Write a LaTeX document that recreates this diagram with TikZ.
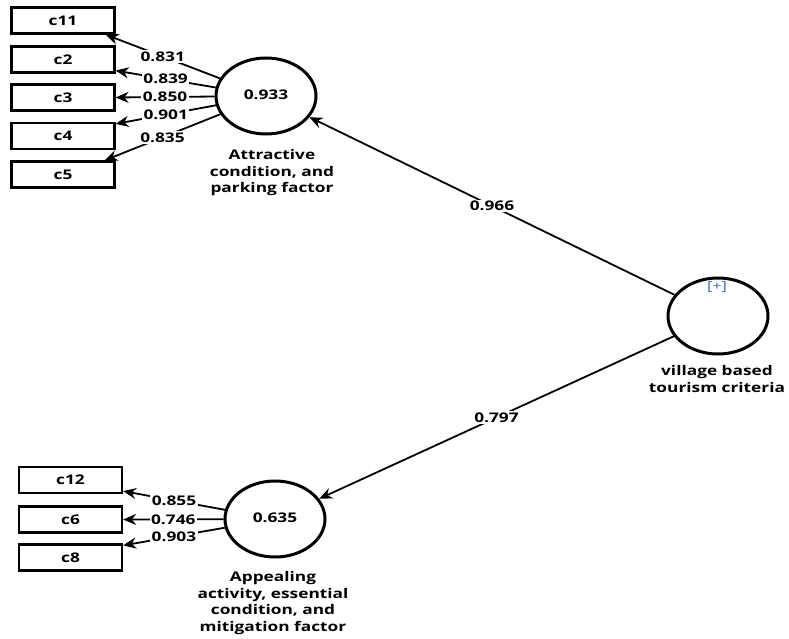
\documentclass[tikz,border=0pt]{standalone}
\usepackage{fontspec}
\setmainfont[FakeStretch=1.3]{Open Sans}
\usetikzlibrary{shapes.geometric,arrows.meta,calc}
\definecolor{plusblue}{RGB}{60,110,170}
\begin{document}
\begin{tikzpicture}[x=1pt,y=-1pt,
  every node/.style={font=\bfseries\fontsize{13.3}{16.5}\selectfont},
  ind/.style={draw, line width=2.2pt, minimum width=103pt, minimum height=26pt, inner sep=0pt},
  lv/.style={draw, ellipse, line width=3pt, minimum width=100pt, minimum height=76pt, inner sep=0pt},
  arr/.style={-{Stealth[length=13pt,width=11pt]}, line width=1.8pt},
  lab/.style={fill=white, inner sep=1.5pt, pos=0.5},
  captext/.style={align=center, inner sep=0pt}]
\useasboundingbox (0,0) rectangle (789,639);
% indicator boxes
\node[ind] (c11) at (63,20.5) {c11};
\node[ind] (c2) at (63,59.5) {c2};
\node[ind] (c3) at (63,97.5) {c3};
\node[ind] (c4) at (63,136) {c4};
\node[ind] (c5) at (63,174.5) {c5};
\node[ind] (c12) at (70.5,480) {c12};
\node[ind] (c6) at (70.5,519.5) {c6};
\node[ind] (c8) at (70.5,557.5) {c8};
% latent variables
\node[lv] (A) at (266,96) {\raisebox{3pt}{0.933}};
\node[lv] (B) at (275,519) {\raisebox{3pt}{0.635}};
\node[lv] (V) at (718,316) {};
\node[text=plusblue, font=\fontsize{12.5}{14}\selectfont] (plus) at (717,287) {[+]};
% captions
\node[captext] (Acap) at (272,173) {Attractive\\condition, and\\parking factor};
\node[captext] (Bcap) at (273,603) {Appealing\\activity, essential\\condition, and\\mitigation factor};
\node[captext] (Vcap) at (717,379) {village based\\tourism criteria};
% loadings
\draw[arr] (A) -- ([xshift=-10pt]c11.south east) node[lab] {0.831};
\draw[arr] (A) -- ([yshift=3pt]c2.south east) node[lab] {0.839};
\draw[arr] (A) -- (c3.east) node[lab] {0.850};
\draw[arr] (A) -- ([yshift=-2pt]c4.north east) node[lab] {0.901};
\draw[arr] (A) -- ([xshift=-11pt]c5.north east) node[lab] {0.835};
\draw[arr] (B) -- ([yshift=3pt]c12.south east) node[lab] {0.855};
\draw[arr] (B) -- (c6.east) node[lab] {0.746};
\draw[arr] (B) -- ([yshift=-2pt]c8.north east) node[lab] {0.903};
% paths
\draw[arr] (V) -- (A) node[lab] {0.966};
\draw[arr] (V) -- (B) node[lab] {0.797};
\end{tikzpicture}
\end{document}
